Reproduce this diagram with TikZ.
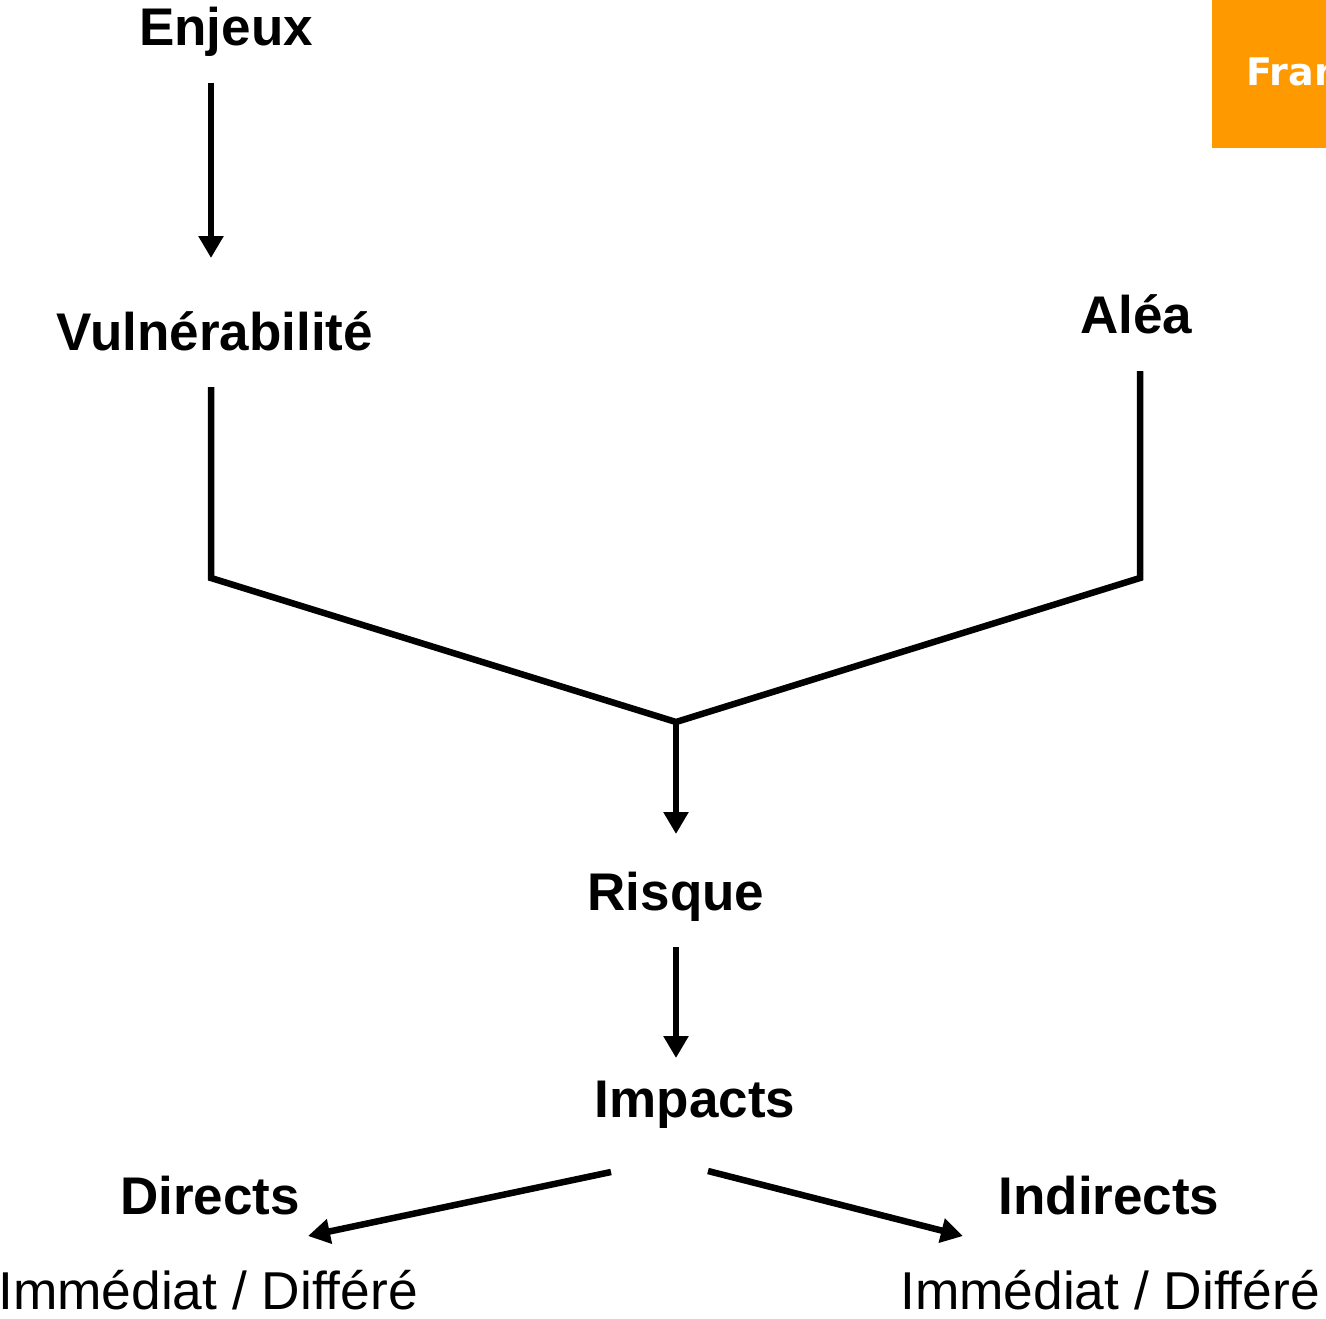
\documentclass[tikz,border=0pt]{standalone}
\usepackage{fontspec}
\setmainfont{Liberation Sans}
\newfontfamily\tagfont{DejaVu Sans}
\usetikzlibrary{arrows.meta}
\definecolor{tagorange}{RGB}{255,153,0}
\begin{document}
\begin{tikzpicture}[x=1pt,y=-1pt,
  lbl/.style={anchor=base,inner sep=0pt,font=\fontsize{53}{60}\selectfont\bfseries},
  sub/.style={anchor=base,inner sep=0pt,font=\fontsize{53.3}{60}\selectfont},
  link/.style={line width=6.5pt,miter limit=20},
  arr/.style={link,-{Triangle[length=22pt,width=24pt]}}]
\useasboundingbox (0,0) rectangle (1326,1319);
\clip (0,0) rectangle (1326,1319);

% corner tag
\fill[tagorange] (1212,0) rectangle (1330,148);
\node[anchor=base west,inner sep=0pt,text=white,font=\tagfont\fontsize{38}{44}\selectfont\bfseries] (tag) at (1246,86) {Fran};

% labels
\node[lbl] (enjeux) at (226,46) {Enjeux};
\node[lbl] (vuln) at (215,350) {Vulnérabilité};
\node[lbl] (alea) at (1136,333) {Aléa};
\node[lbl] (risque) at (676,910) {Risque};
\node[lbl] (impacts) at (695,1117) {Impacts};
\node[lbl] (directs) at (210,1214) {Directs};
\node[lbl] (indirects) at (1109,1214) {Indirects};
\node[sub] (dtime) at (208,1309) {Immédiat / Différé};
\node[sub] (itime) at (1110,1309) {Immédiat / Différé};

% connector ends
\coordinate (e1) at (211,83);
\coordinate (e2) at (211,258);
\coordinate (v1) at (211,387);
\coordinate (v2) at (211,578);
\coordinate (a1) at (1140,371);
\coordinate (a2) at (1140,578);
\coordinate (m) at (676,722);
\coordinate (r0) at (676,834);
\coordinate (r1) at (676,947);
\coordinate (r2) at (676,1058);
\coordinate (il) at (611,1172);
\coordinate (dl) at (308,1236);
\coordinate (ir) at (708,1171);
\coordinate (dr) at (963,1236);

% connectors
\draw[arr] (e1) -- (e2);
\draw[link] (v1) -- (v2) -- (m) -- (a2) -- (a1);
\draw[arr] (m) -- (r0);
\draw[arr] (r1) -- (r2);
\draw[arr] (il) -- (dl);
\draw[arr] (ir) -- (dr);
\end{tikzpicture}
\end{document}
